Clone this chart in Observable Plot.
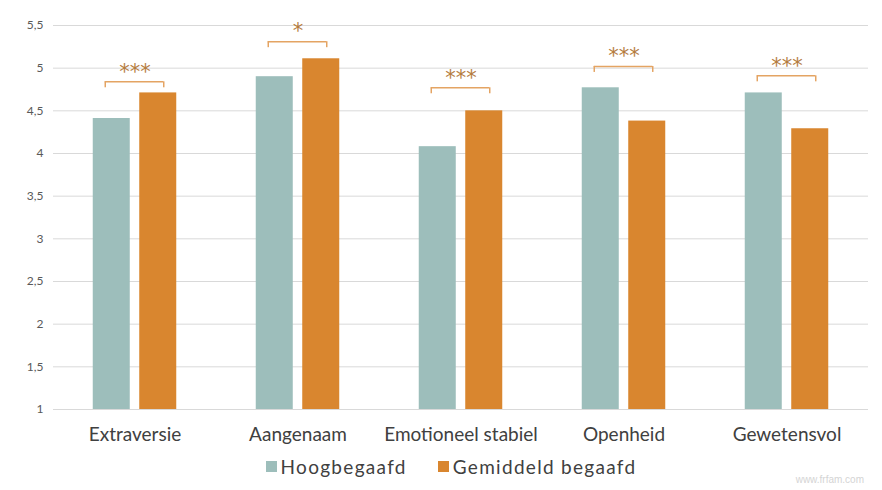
<!DOCTYPE html>
<html><head><meta charset="utf-8">
<script src="https://cdn.jsdelivr.net/npm/d3@7"></script>
<script src="https://cdn.jsdelivr.net/npm/@observablehq/plot@0.6"></script>
<style>
body{margin:0;background:#fff;font-family:Lato,"Open Sans",sans-serif;}
#wrap{position:relative;width:882px;height:490px;}
#legend{position:absolute;left:0;top:455px;width:882px;box-sizing:border-box;padding-left:20px;display:flex;justify-content:center;align-items:center;gap:31px;font-size:19px;letter-spacing:1.3px;color:#404040;}
#legend .item{display:flex;align-items:center;gap:4px;}
#legend .sw{width:11px;height:11px;display:inline-block;}
#wm{position:absolute;right:18px;top:474px;font-size:10px;color:#d4d4d4;font-family:"Liberation Sans",sans-serif;}
</style>
</head><body>
<div id="wrap"><div id="chart"></div><div id="legend"></div><div id="wm">www.frfam.com</div></div>
<script>
const categories = ["Extraversie", "Aangenaam", "Emotioneel stabiel", "Openheid", "Gewetensvol"];
const seriesNames = ["Hoogbegaafd", "Gemiddeld begaafd"];
const hoogbegaafd = [4.41, 4.90, 4.08, 4.77, 4.71];
const gemiddeld = [4.71, 5.11, 4.50, 4.38, 4.29];
const significance = ["***", "*", "***", "***", "***"];
const bracketLevel = [4.84, 5.31, 4.77, 5.02, 4.91];
const yTicks = [1, 1.5, 2, 2.5, 3, 3.5, 4, 4.5, 5, 5.5];
const yTickLabels = ["1", "1,5", "2", "2,5", "3", "3,5", "4", "4,5", "5", "5,5"];
const colors = ["#9dbebb", "#d9862f"];

const table = [];
categories.forEach((c, i) => {
  table.push({category: c, series: seriesNames[0], value: hoogbegaafd[i]});
  table.push({category: c, series: seriesNames[1], value: gemiddeld[i]});
});
const brackets = categories.map((c, i) => ({
  category: c, sig: significance[i], level: bracketLevel[i],
  levelEnd: bracketLevel[i] - 0.07, levelMid: bracketLevel[i] + 0.06,
  from: seriesNames[0], to: seriesNames[1]
}));
const tickLabel = new Map(yTicks.map((t, i) => [t, yTickLabels[i]]));
const bracketColor = "#e4a463";
const starColor = "#b57c3e";

const chart = Plot.plot({
  width: 882, height: 450,
  marginLeft: 52, marginRight: 14, marginTop: 25, marginBottom: 41,
  style: {fontFamily: "Lato, 'Open Sans', sans-serif", background: "#fff"},
  fx: {domain: categories, padding: 0, label: null, axis: null},
  x: {domain: seriesNames, paddingInner: 0.204, paddingOuter: 0.855, round: false, axis: null},
  y: {domain: [1, 5.5], label: null, axis: null},
  color: {domain: seriesNames, range: colors},
  marks: [
    Plot.gridY(yTicks, {stroke: "#d9d9d9", strokeOpacity: 1}),
    Plot.axisY(yTicks, {tickSize: 0, tickPadding: 10, tickFormat: d => tickLabel.get(d), fontSize: 12, fill: "#595959", label: null}),
    Plot.axisFx({anchor: "bottom", tickSize: 0, tickPadding: 18, fontSize: 19, fill: "#404040", label: null, style: {letterSpacing: "1.6px"}}),
    Plot.barY(table, {fx: "category", x: "series", y1: 1, y2: "value", fill: "series"}),
    Plot.ruleY(brackets, {fx: "category", y: "level", x1: "from", x2: "to", insetLeft: 12, insetRight: 13, stroke: bracketColor, strokeWidth: 1.5}),
    Plot.ruleX(brackets, {fx: "category", x: "from", y1: "level", y2: "levelEnd", dx: -6.5, stroke: bracketColor, strokeWidth: 1.5}),
    Plot.ruleX(brackets, {fx: "category", x: "to", y1: "level", y2: "levelEnd", dx: 5.5, stroke: bracketColor, strokeWidth: 1.5}),
    Plot.ruleX(brackets, {fx: "category", y1: "level", y2: "levelMid", stroke: bracketColor, strokeWidth: 1.5}),
    Plot.text(brackets, {fx: "category", y: "level", text: "sig", dy: -10, fontSize: 21, fill: starColor, fontFamily: "DejaVu Sans"})
  ]
});
document.getElementById("chart").appendChild(chart);

const legend = d3.select("#legend");
seriesNames.forEach((s, i) => {
  const item = legend.append("div").attr("class", "item");
  item.append("span").attr("class", "sw").style("background", colors[i]);
  item.append("span").text(s);
});
</script>
</body></html>
